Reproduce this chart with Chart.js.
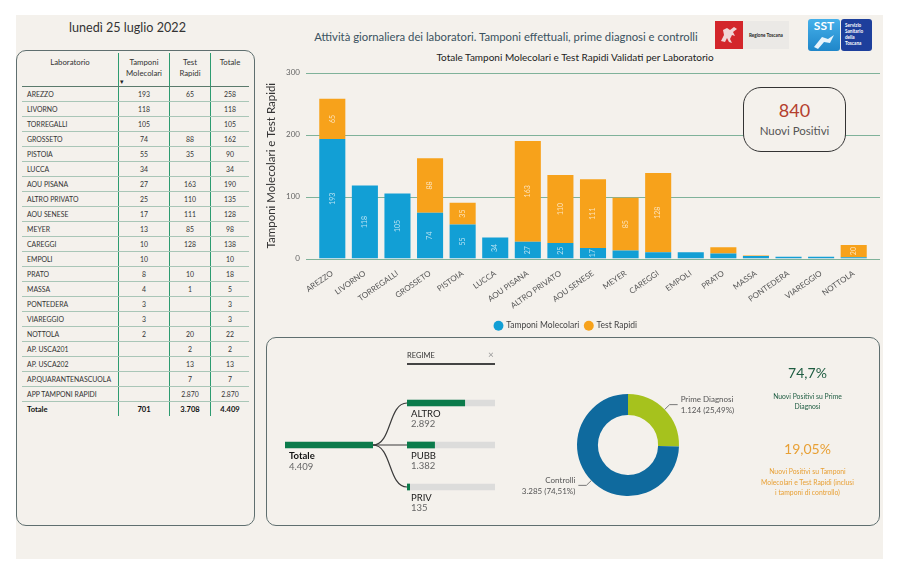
<!DOCTYPE html>
<html><head><meta charset="utf-8">
<script src="https://cdn.jsdelivr.net/npm/chart.js@4.4.0/dist/chart.umd.min.js"></script>
<style>
html,body{margin:0;padding:0;background:#fff;width:900px;height:575px;overflow:hidden;font-family:Lato,'Open Sans',sans-serif}
.a{position:absolute}
#bg{left:16px;top:15px;width:867px;height:544px;background:#f4f1ec}
#date{left:40px;top:20px;width:175px;text-align:center;font-size:12.6px;color:#333}
#head{left:300px;top:30px;width:412px;text-align:center;font-size:11.3px;color:#3a5260}
#ctitle{left:400px;top:51px;width:350px;text-align:center;font-size:10px;color:#222}
#tpanel{left:16px;top:50px;width:239px;height:476px;box-sizing:border-box;border:1.3px solid #5f6f6f;border-radius:10px}
#tbl{position:absolute;left:22px;top:53px;width:224px;border-collapse:collapse;table-layout:fixed;color:#333}
#tbl th{height:29px;font-weight:normal;font-size:7.8px;vertical-align:top;padding:4px 0 0;line-height:11px;text-align:center;border-bottom:1.3px solid #5a7a6c}
#tbl td{height:14px;font-size:6.9px;padding:0;text-align:center;border-bottom:1px solid #a9c6b7;white-space:nowrap}
#tbl td:first-child{text-align:left;padding-left:5px}
#tbl tr>*:not(:first-child){border-left:1px solid #2d9b70}
#tbl tr.tot td{font-weight:bold;font-size:7.6px;border-top:1.2px solid #555;border-bottom:none;color:#111}
#box840{left:743px;top:87px;width:103px;height:65px;box-sizing:border-box;border:1.5px solid #333;border-radius:18px;background:#f4f1ec;text-align:center}
#bpanel{left:266px;top:337px;width:614px;height:189px;box-sizing:border-box;border:1.3px solid #5f6f6f;border-radius:10px}
.kpi{text-align:center}
</style></head><body>
<div id="bg" class="a"></div>
<div id="date" class="a">lunedì 25 luglio 2022</div>
<div id="head" class="a">Attività giornaliera dei laboratori. Tamponi effettuali, prime diagnosi e controlli</div>

<!-- logos -->
<div class="a" style="left:715px;top:21px;width:28px;height:28px;background:#d3262b">
  <svg width="28" height="28" viewBox="0 0 28 28"><path d="M6 20 L9 14 L8 9 L12 7 L15 9 L19 6 L22 8 L18 11 L20 15 L17 14 L15 18 L17 22 L14 21 L12 17 L10 21 Z" fill="#f3e9e9" opacity="0.9"/></svg>
</div>
<div class="a" style="left:743px;top:21px;width:46px;height:28px;background:#ebe9e6;font-size:4.6px;font-weight:bold;color:#222;line-height:28px;text-indent:6px">Regione Toscana</div>
<div class="a" style="left:808px;top:19px;width:32px;height:32px;border-radius:3px;background:linear-gradient(#45b0ea,#1f86c9);color:#fff;font-weight:bold;font-size:12px;text-align:center;line-height:14px">SST
  <svg width="32" height="18" viewBox="0 0 32 18" style="display:block"><path d="M6 14 L14 4 L20 6 L26 2 L22 10 L16 9 L10 16 Z" fill="#e8f3fb"/></svg>
</div>
<div class="a" style="left:841px;top:19px;width:31px;height:32px;border-radius:3px;background:#1d3f9c;color:#fff;font-weight:bold;font-size:4.6px;line-height:6px;padding:3px 0 0 4px;box-sizing:border-box">Servizio<br>Sanitario<br>della<br>Toscana</div>

<div id="tpanel" class="a"></div>
<table id="tbl"><thead><tr>
<th style="width:96px">Laboratorio</th><th style="width:50px">Tamponi<br>Molecolari</th><th style="width:40px">Test<br>Rapidi</th><th style="width:38px">Totale</th>
</tr></thead><tbody id="tb"></tbody></table>
<div class="a" style="left:120px;top:77px;font-size:7px;color:#222">▾</div>

<div id="ctitle" class="a">Totale Tamponi Molecolari e Test Rapidi Validati per Laboratorio</div>
<canvas id="main" class="a" width="623" height="288" style="left:262px;top:52px"></canvas>
<div id="box840" class="a"><div id="np" style="font-size:18px;color:#b4402e;margin-top:12px;line-height:20px"></div><div style="font-size:11.5px;color:#555;margin-top:4px">Nuovi Positivi</div></div>

<div id="bpanel" class="a"></div>
<div class="a" style="left:407px;top:351px;font-size:7.5px;color:#333">REGIME</div>
<div class="a" style="left:488px;top:348px;font-size:10px;color:#999">×</div>
<div class="a" style="left:407px;top:363px;width:88px;height:1.5px;background:#444"></div>
<canvas id="treeT" class="a" width="95" height="50" style="left:280px;top:425px"></canvas>
<canvas id="treeB" class="a" width="125" height="146" style="left:373px;top:372px"></canvas>
<canvas id="donut" class="a" width="260" height="130" style="left:500px;top:380px"></canvas>

<div class="a kpi" style="left:750px;top:364px;width:115px;font-size:14px;color:#1e5c41" id="k1"></div>
<div class="a kpi" style="left:750px;top:391px;width:115px;font-size:6.8px;line-height:10px;color:#1e5c41">Nuovi Positivi su Prime<br>Diagnosi</div>
<div class="a kpi" style="left:750px;top:440px;width:115px;font-size:14px;color:#e8a035" id="k2"></div>
<div class="a kpi" style="left:745px;top:466px;width:125px;font-size:6.8px;line-height:10.5px;color:#e8a035">Nuovi Positivi su Tamponi<br>Molecolari e Test Rapidi (inclusi<br>i tamponi di controllo)</div>

<script>
// ---- data ----
const labs = ['AREZZO','LIVORNO','TORREGALLI','GROSSETO','PISTOIA','LUCCA','AOU PISANA','ALTRO PRIVATO','AOU SENESE','MEYER','CAREGGI','EMPOLI','PRATO','MASSA','PONTEDERA','VIAREGGIO','NOTTOLA','AP. USCA201','AP. USCA202','AP.QUARANTENASCUOLA','APP TAMPONI RAPIDI'];
const molecolari = [193,118,105,74,55,34,27,25,17,13,10,10,8,4,3,3,2,null,null,null,null];
const rapidi = [65,null,null,88,35,null,163,110,111,85,128,null,10,1,null,null,20,2,13,7,2870];
const chartLabs = ['AREZZO','LIVORNO','TORREGALLI','GROSSETO','PISTOIA','LUCCA','AOU PISANA','ALTRO PRIVATO','AOU SENESE','MEYER','CAREGGI','EMPOLI','PRATO','MASSA','PONTEDERA','VIAREGGIO','NOTTOLA'];
const chartMol = [193,118,105,74,55,34,27,25,17,13,10,10,8,4,3,3,2];
const chartRap = [65,null,null,88,35,null,163,110,111,85,128,null,10,1,null,null,20];
const yTicks = [0,100,200,300];
const regimeLabels = ['ALTRO','PUBB','PRIV'];
const regimeValues = [2892,1382,135];
const diagLabels = ['Prime Diagnosi','Controlli'];
const diagValues = [1124,3285];
const nuoviPositivi = 840;

const fmt = n => String(n).replace(/\B(?=(\d{3})+(?!\d))/g,'.');
const FF = 'Lato, "Open Sans", sans-serif';

// ---- table ----
const tb = document.getElementById('tb');
let sM=0,sR=0;
labs.forEach((l,i)=>{
  const m=molecolari[i], r=rapidi[i];
  sM+=m||0; sR+=r||0;
  const tr=document.createElement('tr');
  tr.innerHTML=`<td>${l}</td><td>${m==null?'':fmt(m)}</td><td>${r==null?'':fmt(r)}</td><td>${fmt((m||0)+(r||0))}</td>`;
  tb.appendChild(tr);
});
const tt=document.createElement('tr'); tt.className='tot';
tt.innerHTML=`<td>Totale</td><td>${fmt(sM)}</td><td>${fmt(sR)}</td><td>${fmt(sM+sR)}</td>`;
tb.appendChild(tt);

const regimeTotal = regimeValues.reduce((a,b)=>a+b,0);
const diagTotal = diagValues.reduce((a,b)=>a+b,0);
document.getElementById('np').textContent = nuoviPositivi;
document.getElementById('k1').textContent = (nuoviPositivi/diagValues[0]*100).toFixed(1).replace('.',',')+'%';
document.getElementById('k2').textContent = (nuoviPositivi/(sM+sR)*100).toFixed(2).replace('.',',')+'%';

// ---- main chart ----
const gridPlugin = {id:'grid', beforeDatasetsDraw(c){
  const y=c.scales.y, a=c.chartArea, ctx=c.ctx;
  ctx.save(); ctx.strokeStyle='#7fb29a'; ctx.lineWidth=1;
  yTicks.forEach(v=>{const py=Math.round(y.getPixelForValue(v))+0.5; ctx.beginPath(); ctx.moveTo(a.left-10,py); ctx.lineTo(a.right+10,py); ctx.stroke();});
  ctx.restore();
}};
const barLabels = {id:'barLabels', afterDatasetsDraw(c){
  const ctx=c.ctx; ctx.save();
  ctx.font='7px '+FF; ctx.fillStyle='rgba(255,255,255,0.7)'; ctx.textAlign='center'; ctx.textBaseline='middle';
  c.data.datasets.forEach((ds,di)=>{
    c.getDatasetMeta(di).data.forEach((el,i)=>{
      const v=ds.data[i]; if(v==null) return;
      const h=el.base-el.y; if(h<10) return;
      ctx.save(); ctx.translate(el.x,(el.y+el.base)/2); ctx.rotate(-Math.PI/2); ctx.fillText(String(v),0,0); ctx.restore();
    });
  });
  ctx.restore();
}};
new Chart(document.getElementById('main'),{
  type:'bar',
  data:{labels:chartLabs, datasets:[
    {label:'Tamponi Molecolari', data:chartMol, backgroundColor:'#129fd5', stack:'s', barPercentage:0.8, categoryPercentage:1},
    {label:'Test Rapidi', data:chartRap, backgroundColor:'#f7a21b', stack:'s', barPercentage:0.8, categoryPercentage:1}
  ]},
  options:{responsive:false, animation:false,
    layout:{padding:{top:6,right:15,left:0,bottom:0}},
    plugins:{tooltip:{enabled:false},
      legend:{position:'bottom', labels:{usePointStyle:true, pointStyle:'circle', boxWidth:7, boxHeight:7, padding:6, color:'#444', font:{size:8.5,family:FF}}}},
    scales:{
      x:{stacked:true, grid:{display:false}, border:{display:false},
         ticks:{minRotation:35,maxRotation:35,autoSkip:false,color:'#555',padding:2,font:{size:8,family:FF}},
         afterFit(s){s.height=57;}},
      y:{stacked:true, min:0, max:300, grid:{display:false,drawTicks:false}, border:{display:false},
         afterBuildTicks(s){s.ticks=yTicks.map(v=>({value:v}));},
         ticks:{padding:16,color:'#666',font:{size:8,family:FF}},
         title:{display:true,text:'Tamponi Molecolari e Test Rapidi',color:'#333',font:{size:11.5,family:FF},padding:{top:2,bottom:0}},
         afterFit(s){s.width=54;}}
    }
  },
  plugins:[gridPlugin,barLabels]
});

// ---- decomposition tree ----
const GREEN='#0b7b4b';
new Chart(document.getElementById('treeT'),{
  type:'bar',
  data:{labels:['Totale'],datasets:[{data:[regimeTotal],backgroundColor:GREEN,barThickness:6}]},
  options:{indexAxis:'y',responsive:false,animation:false,
    layout:{padding:{left:5,right:2,top:10,bottom:20}},
    plugins:{legend:{display:false},tooltip:{enabled:false}},
    scales:{x:{display:false,min:0,max:regimeTotal},y:{display:false}}},
  plugins:[{id:'tt',afterDatasetsDraw(c){
    const ctx=c.ctx, el=c.getDatasetMeta(0).data[0];
    ctx.save(); ctx.textBaseline='middle'; ctx.textAlign='left';
    ctx.font='bold 9.5px '+FF; ctx.fillStyle='#111'; ctx.fillText('Totale',c.chartArea.left+4,el.y+11);
    ctx.font='9.5px '+FF; ctx.fillStyle='#666'; ctx.fillText(fmt(regimeTotal),c.chartArea.left+4,el.y+22);
    ctx.restore();
  }}]
});
new Chart(document.getElementById('treeB'),{
  type:'bar',
  data:{labels:regimeLabels,datasets:[
    {data:regimeValues,backgroundColor:GREEN,barThickness:6,grouped:false,order:0},
    {data:regimeLabels.map(()=>regimeTotal),backgroundColor:'#dcdcdb',barThickness:6,grouped:false,order:1}
  ]},
  options:{indexAxis:'y',responsive:false,animation:false,
    layout:{padding:{left:34,right:3,top:10,bottom:10}},
    plugins:{legend:{display:false},tooltip:{enabled:false}},
    scales:{x:{display:false,min:0,max:regimeTotal},y:{display:false}}},
  plugins:[{id:'links',beforeDatasetsDraw(c){
    const ctx=c.ctx, a=c.chartArea, meta=c.getDatasetMeta(0);
    const y0=(a.top+a.bottom)/2, mid=a.left/2;
    ctx.save(); ctx.strokeStyle='#3a3a3a'; ctx.lineWidth=1.2;
    meta.data.forEach(el=>{ctx.beginPath(); ctx.moveTo(0,y0); ctx.bezierCurveTo(mid+2,y0,mid-2,el.y,a.left,el.y); ctx.stroke();});
    ctx.restore();
  },afterDatasetsDraw(c){
    const ctx=c.ctx, a=c.chartArea, meta=c.getDatasetMeta(0);
    ctx.save(); ctx.textBaseline='middle'; ctx.textAlign='left';
    meta.data.forEach((el,i)=>{
      ctx.font='9.5px '+FF; ctx.fillStyle='#1a1a1a'; ctx.fillText(regimeLabels[i],a.left+4,el.y+11);
      ctx.fillStyle='#666'; ctx.fillText(fmt(regimeValues[i]),a.left+4,el.y+21);
    });
    ctx.restore();
  }}]
});

// ---- donut ----
new Chart(document.getElementById('donut'),{
  type:'doughnut',
  data:{labels:diagLabels,datasets:[{data:diagValues,backgroundColor:['#a6c21d','#0f6a9e'],borderWidth:0}]},
  options:{responsive:false,animation:false,cutout:'59%',
    layout:{padding:{left:77,right:81,top:14,bottom:14}},
    plugins:{legend:{display:false},tooltip:{enabled:false}}},
  plugins:[{id:'dl',afterDatasetsDraw(c){
    const ctx=c.ctx, meta=c.getDatasetMeta(0);
    ctx.save(); ctx.strokeStyle='#777'; ctx.lineWidth=1; ctx.font='8px '+FF; ctx.fillStyle='#555'; ctx.textBaseline='middle';
    meta.data.forEach((arc,i)=>{
      const m=(arc.startAngle+arc.endAngle)/2, r=arc.outerRadius;
      const x0=arc.x+Math.cos(m)*r, y0=arc.y+Math.sin(m)*r;
      const x1=arc.x+Math.cos(m)*(r+7), y1=arc.y+Math.sin(m)*(r+7);
      const right=Math.cos(m)>=0, x2=x1+(right?8:-8);
      ctx.beginPath(); ctx.moveTo(x0,y0); ctx.lineTo(x1,y1); ctx.lineTo(x2,y1); ctx.stroke();
      const pct=(diagValues[i]/diagTotal*100).toFixed(2).replace('.',',');
      ctx.textAlign=right?'left':'right'; const tx=x2+(right?3:-3);
      ctx.fillText(diagLabels[i],tx,y1-5); ctx.fillText(fmt(diagValues[i])+' ('+pct+'%)',tx,y1+6);
    });
    ctx.restore();
  }}]
});
</script>
</body></html>
